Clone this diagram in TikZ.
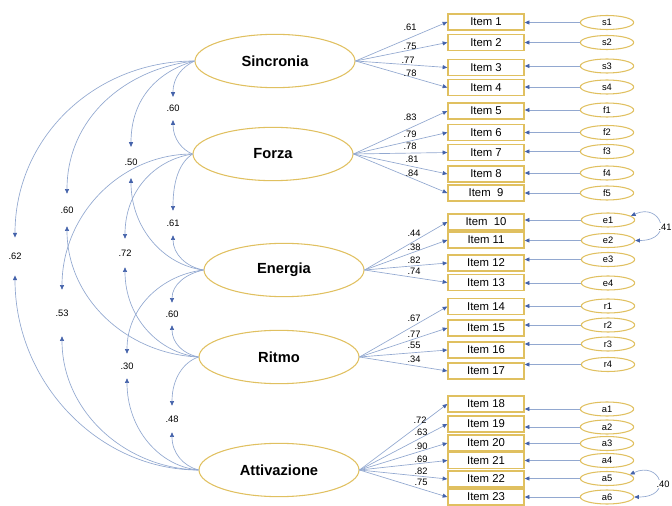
\documentclass[tikz,border=0pt]{standalone}
\usepackage{fontspec}
\setmainfont{Liberation Sans}
\usetikzlibrary{shapes.geometric,arrows.meta}
\definecolor{semgold}{RGB}{224,192,96}
\definecolor{semline}{RGB}{146,168,208}
\definecolor{semtip}{RGB}{68,98,170}

\begin{document}
\begin{tikzpicture}[x=0.75pt,y=0.75pt,yscale=-1,
	latent/.style={ellipse, draw=semgold, line width=0.8pt, minimum width=120pt, minimum height=40pt, inner sep=0pt, font=\fontsize{11}{13}\selectfont\bfseries},
	itembox/.style={rectangle, draw=semgold, line width=1pt, fill=white, minimum width=57pt, minimum height=12pt, inner sep=0pt, font=\fontsize{8.5}{10}\selectfont},
	errnode/.style={ellipse, draw=semgold, line width=0.8pt, minimum width=40pt, minimum height=10.5pt, inner sep=0pt, font=\fontsize{7}{8}\selectfont},
	coef/.style={inner sep=0.5pt, font=\fontsize{7}{8}\selectfont},
	load/.style={draw=semline, line width=0.5pt, -{Triangle[length=3.5pt,width=3pt,color=semtip]}},
	twoway/.style={draw=semline, line width=0.5pt, {Triangle[length=3.5pt,width=3pt,color=semtip]}-{Triangle[length=3.5pt,width=3pt,color=semtip]}}
]
	\useasboundingbox (0,0) rectangle (672,506);

	% Latent factors
	\node [latent] (sin) at (275,61) {Sincronia};
	\node [latent] (for) at (273,154) {Forza};
	\node [latent] (ene) at (284,270) {Energia};
	\node [latent] (rit) at (279,357) {Ritmo};
	\node [latent] (att) at (279,470) {Attivazione};

	% Items
	\node [itembox] (i1) at (486,22) {Item 1};
	\node [itembox] (i2) at (486,42.5) {Item 2};
	\node [itembox] (i3) at (486,67.5) {Item 3};
	\node [itembox] (i4) at (486,87.5) {Item 4};
	\node [itembox] (i5) at (486,111) {Item 5};
	\node [itembox] (i6) at (486,132.5) {Item 6};
	\node [itembox] (i7) at (486,152.5) {Item 7};
	\node [itembox] (i8) at (486,174) {Item 8};
	\node [itembox] (i9) at (486,193) {Item~ 9};
	\node [itembox] (i10) at (486,222) {Item~ 10};
	\node [itembox] (i11) at (486,240) {Item 11};
	\node [itembox] (i12) at (486,263) {Item 12};
	\node [itembox] (i13) at (486,282.5) {Item 13};
	\node [itembox] (i14) at (486,306.5) {Item 14};
	\node [itembox] (i15) at (486,328) {Item 15};
	\node [itembox] (i16) at (486,350) {Item 16};
	\node [itembox] (i17) at (486,371) {Item 17};
	\node [itembox] (i18) at (486,404) {Item 18};
	\node [itembox] (i19) at (486,424) {Item 19};
	\node [itembox] (i20) at (486,443) {Item 20};
	\node [itembox] (i21) at (486,460.5) {Item 21};
	\node [itembox] (i22) at (486,479) {Item 22};
	\node [itembox] (i23) at (486,497) {Item 23};

	% Errors
	\node [errnode] (s1) at (607,22.5) {s1};
	\node [errnode] (s2) at (607,42.5) {s2};
	\node [errnode] (s3) at (607,66) {s3};
	\node [errnode] (s4) at (607,87) {s4};
	\node [errnode] (f1) at (607,110) {f1};
	\node [errnode] (f2) at (607,132.5) {f2};
	\node [errnode] (f3) at (607,151.5) {f3};
	\node [errnode] (f4) at (607,173) {f4};
	\node [errnode] (f5) at (607,193) {f5};
	\node [errnode] (e1) at (608,220) {e1};
	\node [errnode] (e2) at (608,240.5) {e2};
	\node [errnode] (e3) at (608,259.5) {e3};
	\node [errnode] (e4) at (608,283) {e4};
	\node [errnode] (r1) at (608,306) {r1};
	\node [errnode] (r2) at (608,325) {r2};
	\node [errnode] (r3) at (608,344) {r3};
	\node [errnode] (r4) at (608,364.5) {r4};
	\node [errnode] (a1) at (607,409) {a1};
	\node [errnode] (a2) at (607,427) {a2};
	\node [errnode] (a3) at (607,443.5) {a3};
	\node [errnode] (a4) at (607,460.5) {a4};
	\node [errnode] (a5) at (607,478.5) {a5};
	\node [errnode] (a6) at (607,497) {a6};

	% Loadings
	\draw [load] (sin.east) -- (i1.west);
	\draw [load] (sin.east) -- (i2.west);
	\draw [load] (sin.east) -- (i3.west);
	\draw [load] (sin.east) -- (i4.west);
	\draw [load] (for.east) -- (i5.west);
	\draw [load] (for.east) -- (i6.west);
	\draw [load] (for.east) -- (i7.west);
	\draw [load] (for.east) -- (i8.west);
	\draw [load] (for.east) -- (i9.west);
	\draw [load] (ene.east) -- (i10.west);
	\draw [load] (ene.east) -- (i11.west);
	\draw [load] (ene.east) -- (i12.west);
	\draw [load] (ene.east) -- (i13.west);
	\draw [load] (rit.east) -- (i14.west);
	\draw [load] (rit.east) -- (i15.west);
	\draw [load] (rit.east) -- (i16.west);
	\draw [load] (rit.east) -- (i17.west);
	\draw [load] (att.east) -- (i18.west);
	\draw [load] (att.east) -- (i19.west);
	\draw [load] (att.east) -- (i20.west);
	\draw [load] (att.east) -- (i21.west);
	\draw [load] (att.east) -- (i22.west);
	\draw [load] (att.east) -- (i23.west);

	% Loading values
	\node [coef] (c1) at (410,27) {.61};
	\node [coef] (c2) at (410,46) {.75};
	\node [coef] (c3) at (408,60) {.77};
	\node [coef] (c4) at (410,73) {.78};
	\node [coef] (c5) at (410,117) {.83};
	\node [coef] (c6) at (410,134) {.79};
	\node [coef] (c7) at (410,146) {.78};
	\node [coef] (c8) at (412,159) {.81};
	\node [coef] (c9) at (412,173) {.84};
	\node [coef] (c10) at (414,233) {.44};
	\node [coef] (c11) at (414,247) {.38};
	\node [coef] (c12) at (414,260) {.82};
	\node [coef] (c13) at (414,271) {.74};
	\node [coef] (c14) at (414,318) {.67};
	\node [coef] (c15) at (414,334) {.77};
	\node [coef] (c16) at (414,345) {.55};
	\node [coef] (c17) at (414,359) {.34};
	\node [coef] (c18) at (420,420) {.72};
	\node [coef] (c19) at (421,432) {.63};
	\node [coef] (c20) at (421,446) {.90};
	\node [coef] (c21) at (421,459) {.69};
	\node [coef] (c22) at (421,471) {.82};
	\node [coef] (c23) at (421,482) {.75};

	% Error paths
	\draw [load] (s1.west) -- (s1.west -| i1.east);
	\draw [load] (s2.west) -- (s2.west -| i2.east);
	\draw [load] (s3.west) -- (s3.west -| i3.east);
	\draw [load] (s4.west) -- (s4.west -| i4.east);
	\draw [load] (f1.west) -- (f1.west -| i5.east);
	\draw [load] (f2.west) -- (f2.west -| i6.east);
	\draw [load] (f3.west) -- (f3.west -| i7.east);
	\draw [load] (f4.west) -- (f4.west -| i8.east);
	\draw [load] (f5.west) -- (f5.west -| i9.east);
	\draw [load] (e1.west) -- (e1.west -| i10.east);
	\draw [load] (e2.west) -- (e2.west -| i11.east);
	\draw [load] (e3.west) -- (e3.west -| i12.east);
	\draw [load] (e4.west) -- (e4.west -| i13.east);
	\draw [load] (r1.west) -- (r1.west -| i14.east);
	\draw [load] (r2.west) -- (r2.west -| i15.east);
	\draw [load] (r3.west) -- (r3.west -| i16.east);
	\draw [load] (r4.west) -- (r4.west -| i17.east);
	\draw [load] (a1.west) -- (a1.west -| i18.east);
	\draw [load] (a2.west) -- (a2.west -| i19.east);
	\draw [load] (a3.west) -- (a3.west -| i20.east);
	\draw [load] (a4.west) -- (a4.west -| i21.east);
	\draw [load] (a5.west) -- (a5.west -| i22.east);
	\draw [load] (a6.west) -- (a6.west -| i23.east);

	% Error covariances
	\draw [twoway] (e1.10) .. controls +(30,-14) and +(40,0) .. (e2.east);
	\node [coef, fill=white] (ee) at (665,227) {.41};
	\draw [twoway] (a5.10) .. controls +(30,-14) and +(40,0) .. (a6.east);
	\node [coef, fill=white] (aa) at (663,484) {.40};

	% Factor covariance values
	\node [coef, minimum height=17pt] (sf) at (173,108.5) {.60};
	\node [coef, minimum height=23pt] (se) at (131,162.5) {.50};
	\node [coef, minimum height=24pt] (sr) at (67,210) {.60};
	\node [coef, minimum height=28pt] (sa) at (15,256.5) {.62};
	\node [coef, minimum height=18pt] (fe) at (173,223) {.61};
	\node [coef, minimum height=21pt] (fr) at (125,253) {.72};
	\node [coef, minimum height=34.5pt] (fa) at (62,313) {.53};
	\node [coef, minimum height=16.5pt] (er) at (172,314) {.60};
	\node [coef, minimum height=18pt] (ea) at (127,366) {.30};
	\node [coef, minimum height=19.5pt] (ra) at (172,419) {.48};

	% Covariance curves, upper halves
	\draw [load] (sin.west) .. controls +(-100,0) and +(0,-100) .. (sa.north);
	\draw [load] (sin.west) .. controls +(-70,8) and +(0,-75) .. (sr.north);
	\draw [load] (sin.west) .. controls +(-35,10) and +(0,-50) .. (se.north);
	\draw [load] (sin.west) .. controls +(-12,6) and +(0,-20) .. (sf.north);
	\draw [load] (for.west) .. controls +(-72,0) and +(0,-75) .. (fa.north);
	\draw [load] (for.west) .. controls +(-38,6) and +(0,-48) .. (fr.north);
	\draw [load] (for.west) .. controls +(-12,8) and +(0,-32) .. (fe.north);
	\draw [load] (ene.west) .. controls +(-42,5) and +(0,-46) .. (ea.north);
	\draw [load] (ene.west) .. controls +(-18,4) and +(0,-18) .. (er.north);
	\draw [load] (rit.west) .. controls +(-15,5) and +(0,-27) .. (ra.north);

	% Covariance curves, lower halves
	\draw [load] (for.west) .. controls +(-10,-4) and +(0,19) .. (sf.south);
	\draw [load] (ene.west) .. controls +(-40,-5) and +(0,50) .. (se.south);
	\draw [load] (ene.west) .. controls +(-17,-3) and +(0,19) .. (fe.south);
	\draw [load] (rit.west) .. controls +(-72,-3) and +(0,72) .. (sr.south);
	\draw [load] (rit.west) .. controls +(-40,-4) and +(0,50) .. (fr.south);
	\draw [load] (rit.west) .. controls +(-15,-3) and +(0,18) .. (er.south);
	\draw [load] (att.west) .. controls +(-100,0) and +(0,107) .. (sa.south);
	\draw [load] (att.west) .. controls +(-75,-2) and +(0,74) .. (fa.south);
	\draw [load] (att.west) .. controls +(-40,-4) and +(0,50) .. (ea.south);
	\draw [load] (att.west) .. controls +(-15,-4) and +(0,21) .. (ra.south);

\end{tikzpicture}
\end{document}
